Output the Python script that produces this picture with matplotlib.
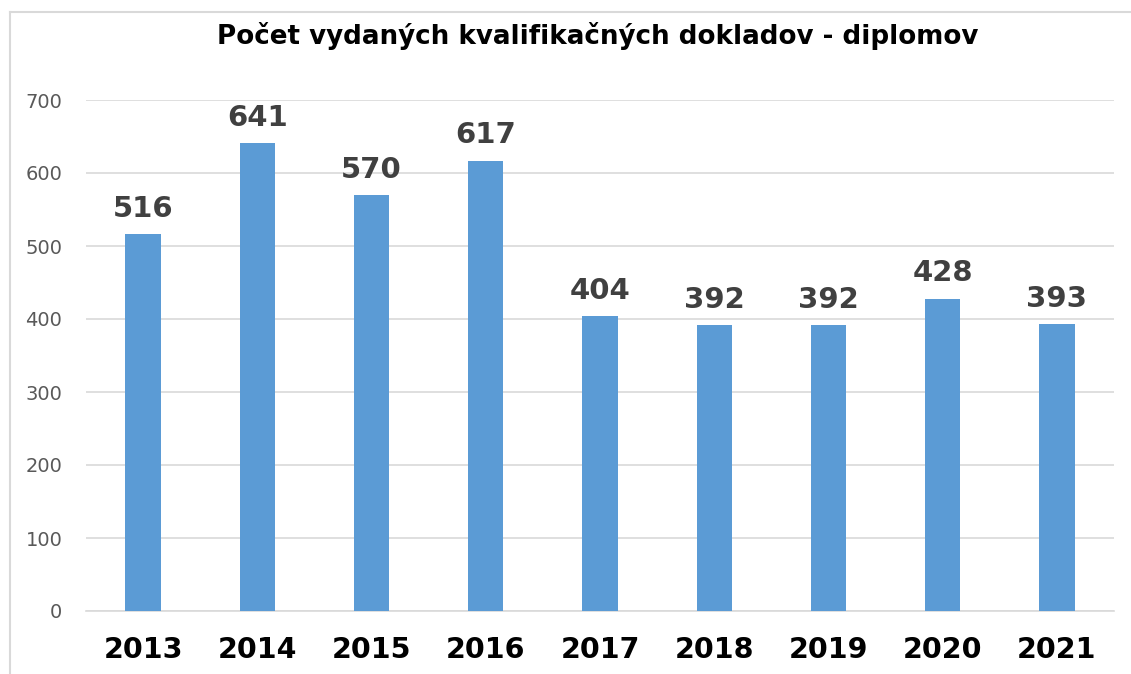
import matplotlib
matplotlib.use("Agg")
import matplotlib.pyplot as plt
from matplotlib.lines import Line2D

years = ["2013", "2014", "2015", "2016", "2017", "2018", "2019", "2020", "2021"]
values = [516, 641, 570, 617, 404, 392, 392, 428, 393]
title = "Počet vydaných kvalifikačných dokladov - diplomov"
yticks = [0, 100, 200, 300, 400, 500, 600, 700]

W, H = 1131, 674
fig = plt.figure(figsize=(W / 100, H / 100), dpi=100)
fig.patch.set_facecolor("white")

# chart border (only left and top visible)
bx, by = 9.5 / W, 1 - 11.5 / H
fig.add_artist(Line2D([bx, bx], [0, by], transform=fig.transFigure, color="#D9D9D9", linewidth=1.5))
fig.add_artist(Line2D([bx, 1], [by, by], transform=fig.transFigure, color="#D9D9D9", linewidth=1.5))

ax = fig.add_axes([86 / W, 63 / H, (1114 - 86) / W, (611 - 100) / H])
x = list(range(len(years)))
ax.bar(x, values, width=0.31, color="#5B9BD5", zorder=3)
ax.set_xlim(-0.5, len(years) - 0.5)
ax.set_ylim(0, 700)
ax.set_yticks(yticks)
ax.set_yticklabels([str(v) for v in yticks], fontsize=14, color="#595959")
ax.set_xticks(x)
ax.set_xticklabels(years, fontsize=20.5, fontweight="bold", color="black")
ax.tick_params(axis="both", length=0)
ax.tick_params(axis="x", pad=18)
ax.tick_params(axis="y", pad=17)
ax.grid(axis="y", color="#D9D9D9", linewidth=1.2, zorder=0)
for s in ["top", "right", "left"]:
    ax.spines[s].set_visible(False)
ax.spines["bottom"].set_color("#D9D9D9")
ax.spines["bottom"].set_linewidth(1.2)

for xi, v in zip(x, values):
    ax.annotate(str(v), (xi, v), xytext=(0, 8), textcoords="offset points",
                ha="center", va="bottom", fontsize=21, fontweight="bold",
                color="#404040", annotation_clip=False)

fig.text(598 / W, 1 - 36 / H, title, ha="center", va="center",
         fontsize=18.8, fontweight="bold", color="black")

fig.savefig("out.png", dpi=100)
